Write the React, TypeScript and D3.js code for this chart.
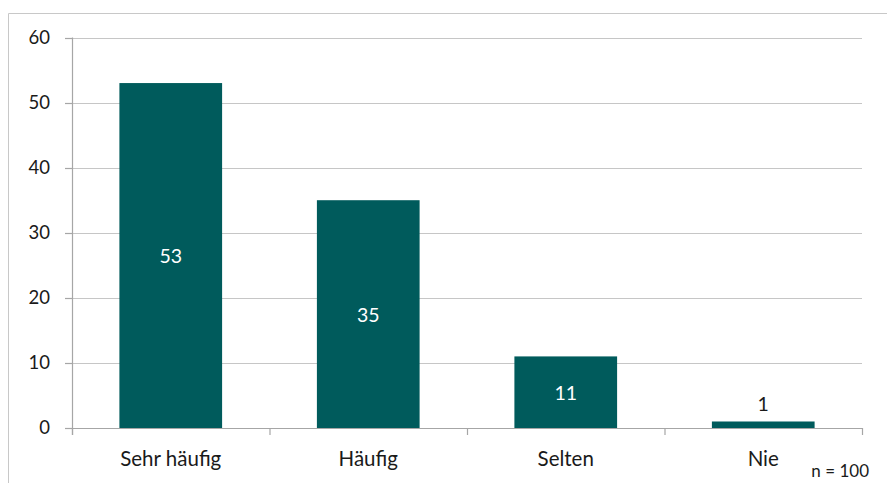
import React, { useEffect, useRef } from 'react';
import * as d3 from 'd3';

const categories = ['Sehr häufig', 'Häufig', 'Selten', 'Nie'];
const values = [53, 35, 11, 1];
const yTicks = [0, 10, 20, 30, 40, 50, 60];
const footnote = 'n = 100';

const W = 887;
const H = 483;

const App: React.FC = () => {
  const svgRef = useRef<SVGSVGElement>(null);

  useEffect(() => {
    if (!svgRef.current) return;
    const svg = d3.select(svgRef.current);
    svg.selectAll('*').remove();

    const font = 'Lato, "Open Sans", sans-serif';
    const left = 72, right = 862, top = 37.5, bottom = 428;

    // chart frame (only the top and left edges are visible)
    svg.append('line').attr('x1', 8.5).attr('x2', W).attr('y1', 13.5).attr('y2', 13.5)
      .attr('stroke', '#c8c8c8').attr('stroke-width', 1);
    svg.append('line').attr('x1', 8.5).attr('x2', 8.5).attr('y1', 13.5).attr('y2', H)
      .attr('stroke', '#c8c8c8').attr('stroke-width', 1);

    const x = d3.scaleBand<string>().domain(categories).range([left, right]).paddingInner(0.48).paddingOuter(0.24);
    const y = d3.scaleLinear().domain([0, 60]).range([bottom, top]);

    // gridlines
    svg.append('g').selectAll('line').data(yTicks.filter(d => d > 0)).enter().append('line')
      .attr('x1', left).attr('x2', right)
      .attr('y1', d => Math.round(y(d)) + 0.5).attr('y2', d => Math.round(y(d)) + 0.5)
      .attr('stroke', '#c6c6c6').attr('stroke-width', 1.2);

    // y axis
    const yAxis = svg.append('g');
    yAxis.append('line').attr('x1', left + 0.5).attr('x2', left + 0.5).attr('y1', top).attr('y2', bottom + 7)
      .attr('stroke', '#a6a6a6').attr('stroke-width', 1.2);
    yAxis.selectAll('line.tick').data(yTicks).enter().append('line').attr('class', 'tick')
      .attr('x1', left - 7).attr('x2', left)
      .attr('y1', d => Math.round(y(d)) + 0.5).attr('y2', d => Math.round(y(d)) + 0.5)
      .attr('stroke', '#a6a6a6').attr('stroke-width', 1.2);
    yAxis.selectAll('text').data(yTicks).enter().append('text')
      .attr('x', 50).attr('y', d => y(d)).attr('dy', '0.35em')
      .attr('text-anchor', 'end').attr('font-family', font).attr('font-size', 18.5).attr('fill', '#1a1a1a')
      .text(d => d);

    // bars
    svg.append('g').selectAll('rect').data(values).enter().append('rect')
      .attr('x', (_, i) => x(categories[i])!)
      .attr('width', x.bandwidth())
      .attr('y', d => y(d))
      .attr('height', d => bottom - y(d))
      .attr('fill', '#005b5c');

    // x axis
    const xAxis = svg.append('g');
    xAxis.append('line').attr('x1', left).attr('x2', right).attr('y1', bottom + 0.5).attr('y2', bottom + 0.5)
      .attr('stroke', '#a6a6a6').attr('stroke-width', 1.2);
    const edges = d3.range(categories.length + 1).map(i => left + i * (right - left) / categories.length);
    xAxis.selectAll('line.tick').data(edges).enter().append('line').attr('class', 'tick')
      .attr('x1', d => d + 0.5).attr('x2', d => d + 0.5).attr('y1', bottom).attr('y2', bottom + 7)
      .attr('stroke', '#a6a6a6').attr('stroke-width', 1.2);
    xAxis.selectAll('text').data(categories).enter().append('text')
      .attr('x', d => x(d)! + x.bandwidth() / 2).attr('y', 466)
      .attr('text-anchor', 'middle').attr('font-family', font).attr('font-size', 20.5).attr('fill', '#1a1a1a')
      .text(d => d);

    // value labels
    svg.append('g').selectAll('text').data(values).enter().append('text')
      .attr('x', (_, i) => x(categories[i])! + x.bandwidth() / 2)
      .attr('y', d => d >= 5 ? (y(d) + bottom) / 2 + 1 : y(d) - 10)
      .attr('dy', d => d >= 5 ? '0.35em' : '0')
      .attr('text-anchor', 'middle').attr('font-family', font).attr('font-size', 19.5)
      .attr('fill', d => d >= 5 ? '#ffffff' : '#1a1a1a')
      .text(d => d);

    svg.append('text').attr('x', 869).attr('y', 477).attr('text-anchor', 'end')
      .attr('font-family', font).attr('font-size', 17).attr('fill', '#1a1a1a').text(footnote);
  }, []);

  return <svg ref={svgRef} width={W} height={H} style={{ position: 'absolute', left: 0, top: 0, background: '#fff' }} />;
};

export default App;
